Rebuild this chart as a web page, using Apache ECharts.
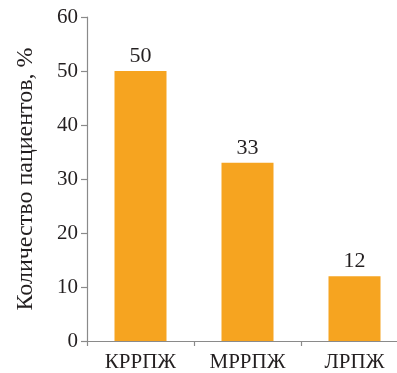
<!DOCTYPE html>
<html>
<head>
<meta charset="utf-8">
<script src="https://cdn.jsdelivr.net/npm/echarts@6/dist/echarts.min.js"></script>
<style>
  html, body { margin: 0; padding: 0; background: #fff; }
  #chart { width: 397px; height: 373px; }
</style>
</head>
<body>
<div id="chart"></div>
<script>
// Share of patients by subtype, %
const categories = ['КРРПЖ', 'МРРПЖ', 'ЛРПЖ'];
const values = [50, 33, 12];
const yTicks = { min: 0, max: 60, interval: 10 };
const yName = 'Количество пациентов, %';

const font = '"Liberation Serif", "DejaVu Serif", serif';
const axisColor = '#8a8a8a';
const textColor = '#231f20';

const chart = echarts.init(document.getElementById('chart'), null, { renderer: 'canvas' });
chart.setOption({
  animation: false,
  grid: {
    left: 87, top: 17, width: 321, height: 324,
    containLabel: false,
    outerBoundsMode: 'none'
  },
  xAxis: {
    type: 'category',
    data: categories,
    axisLine: { show: true, lineStyle: { color: axisColor, width: 1.2 } },
    axisTick: { show: true, alignWithLabel: false, length: 5, lineStyle: { color: axisColor, width: 1.2 } },
    axisLabel: { color: textColor, fontFamily: font, fontSize: 21, margin: 11 }
  },
  yAxis: {
    type: 'value',
    min: yTicks.min,
    max: yTicks.max,
    interval: yTicks.interval,
    name: yName,
    nameLocation: 'middle',
    nameGap: 49,
    nameTextStyle: { color: textColor, fontFamily: font, fontSize: 24 },
    axisLine: { show: true, lineStyle: { color: axisColor, width: 1.2 } },
    axisTick: { show: true, length: 6, lineStyle: { color: axisColor, width: 1.2 } },
    axisLabel: { color: textColor, fontFamily: font, fontSize: 21, margin: 9 },
    splitLine: { show: false }
  },
  series: [{
    type: 'bar',
    data: values,
    barWidth: 52,
    itemStyle: { color: '#f6a420' },
    label: {
      show: true,
      position: 'top',
      distance: 4,
      color: textColor,
      fontFamily: font,
      fontSize: 22
    }
  }]
});
</script>
</body>
</html>
